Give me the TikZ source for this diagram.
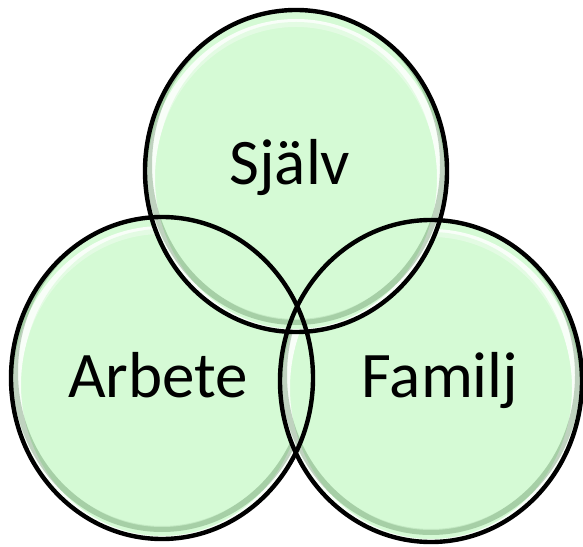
\documentclass[tikz,border=0pt]{standalone}
\usepackage{fontspec}
\setmainfont{Carlito}
\definecolor{vfill}{RGB}{213,250,213}
\definecolor{vdark}{RGB}{60,110,60}
\begin{document}
\begin{tikzpicture}[x=1pt,y=1pt,
  vfillstyle/.style={fill=vfill},
  vline/.style={draw=black,line width=4.4pt},
  vlabel/.style={font=\fontsize{65}{70}\selectfont,anchor=base,text=black,inner sep=0pt}]
\useasboundingbox (0,0) rectangle (583,546);
\coordinate (cl) at (162,168);
\coordinate (cr) at (431,165);
\coordinate (ct) at (296,375);
\foreach \c in {cl,cr,ct}{
  \fill[vfillstyle] (\c) ellipse [x radius=151, y radius=161];
  \begin{scope}
    \clip (\c) ellipse [x radius=151, y radius=161];
    \draw[white,line width=8pt,opacity=0.85] ([yshift=-7pt]\c) ellipse [x radius=145, y radius=155];
    \draw[vdark,line width=6pt,opacity=0.3] ([yshift=6pt]\c) ellipse [x radius=147, y radius=157];
    \fill[vfill,opacity=0.6] (\c) ellipse [x radius=139, y radius=149];
  \end{scope}
}
\draw[vline] (cl) ellipse [x radius=151, y radius=161];
\draw[vline] (cr) ellipse [x radius=151, y radius=161];
\draw[vline] (ct) ellipse [x radius=151, y radius=161];
\node[vlabel] (sjalv) at (290,361) {Själv};
\node[vlabel] (arbete) at (158,148) {Arbete};
\node[vlabel] (familj) at (440,148) {Familj};
\end{tikzpicture}
\end{document}
